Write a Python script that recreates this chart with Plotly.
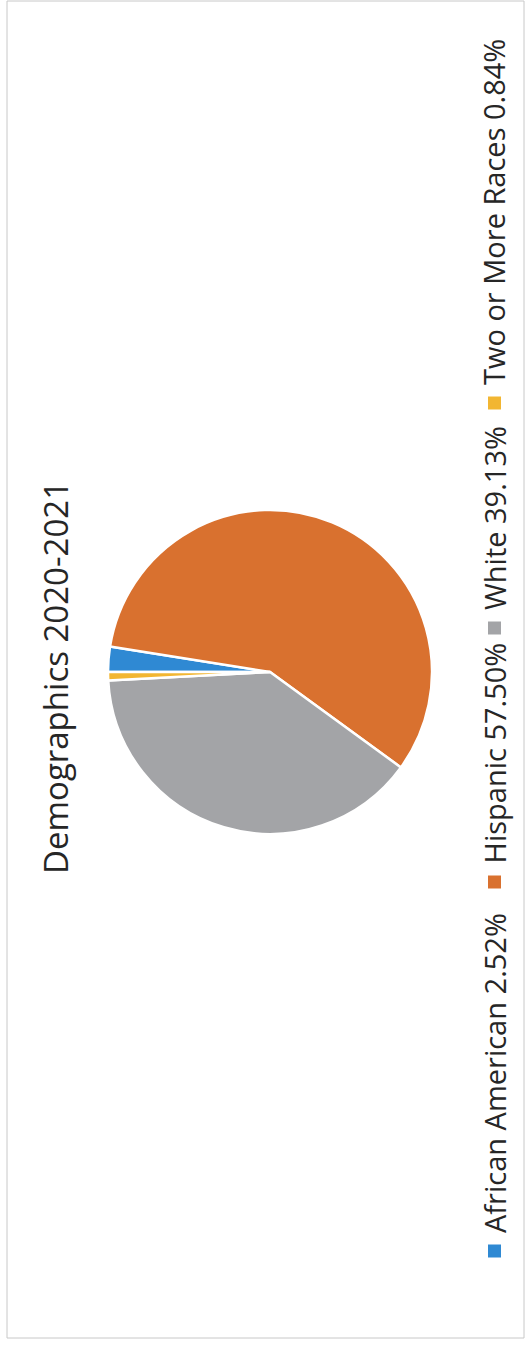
import plotly.graph_objects as go

W, H = 525, 1349

# Data
categories = ["African American", "Hispanic", "White", "Two or More Races"]
values = [2.52, 57.50, 39.13, 0.84]
value_labels = ["2.52%", "57.50%", "39.13%", "0.84%"]
colors = ["#2F89D3", "#D9712F", "#A3A4A7", "#F2B632"]
title_text = "Demographics 2020-2021"

def px(x):
    return x / W

def py(y):
    return 1 - y / H

cx, cy, r = 270, 672, 162

fig = go.Figure()
fig.add_trace(go.Pie(
    labels=categories,
    values=values,
    sort=False,
    direction="clockwise",
    rotation=-90,
    textinfo="none",
    marker=dict(colors=colors, line=dict(color="white", width=2.5)),
    domain=dict(x=[px(cx - r), px(cx + r)], y=[py(cy + r), py(cy - r)]),
    showlegend=False,
    hoverinfo="label+percent",
))

annotations = []
shapes = []

# Title (rotated)
annotations.append(dict(
    text=title_text, x=px(55), y=py(678), xref="paper", yref="paper",
    textangle=-90, showarrow=False, xanchor="center", yanchor="middle",
    font=dict(family="Open Sans, sans-serif", size=33, color="#262626"),
))

# Legend (rotated manually)
marker_y = [1251, 882, 628, 403]
for cat, lab, col, my in zip(categories, value_labels, colors, marker_y):
    shapes.append(dict(
        type="rect", xref="paper", yref="paper",
        x0=px(488), x1=px(501), y0=py(my + 6.5), y1=py(my - 6.5),
        fillcolor=col, line=dict(width=0),
    ))
    annotations.append(dict(
        text=f"{cat} {lab}", x=px(494), y=py(my - 16), xref="paper", yref="paper",
        textangle=-90, showarrow=False, xanchor="center", yanchor="bottom",
        font=dict(family="Open Sans, sans-serif", size=29, color="#262626"),
    ))

# Chart frame
shapes.append(dict(
    type="rect", xref="paper", yref="paper",
    x0=px(7), x1=px(524), y0=py(1338), y1=py(1),
    line=dict(color="#C8C8C8", width=1), fillcolor="rgba(0,0,0,0)",
))

fig.update_layout(
    width=W, height=H,
    margin=dict(l=0, r=0, t=0, b=0),
    paper_bgcolor="white",
    plot_bgcolor="white",
    annotations=annotations,
    shapes=shapes,
)

fig.write_html("out.html")
